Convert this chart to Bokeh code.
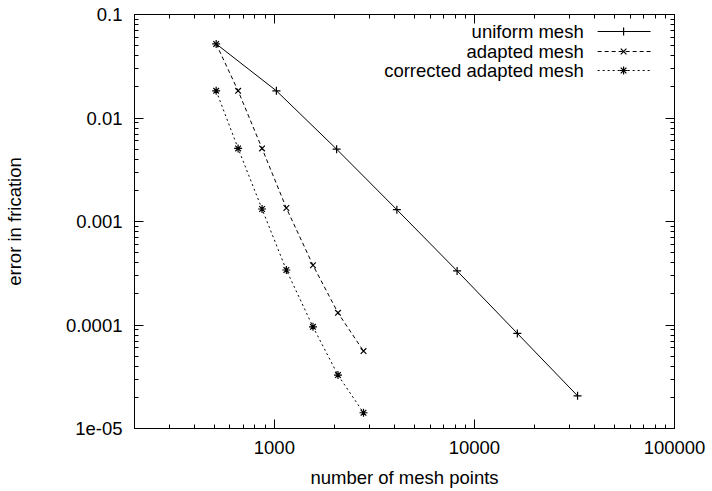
import math
from bokeh.plotting import figure
from bokeh.models import Range1d, LogAxis, FixedTicker, CustomJSTickFormatter
from bokeh.core.properties import value
from bokeh.embed import file_html
from bokeh.resources import INLINE

# ---- data ----
uniform_n = [512, 1024, 2048, 4096, 8192, 16384, 32768]
uniform_err = [0.052, 0.0183, 0.0050, 0.0013, 0.000333, 0.000083, 0.0000207]
adapted_n = [512, 659, 868, 1148, 1560, 2080, 2790]
adapted_err = [0.052, 0.0183, 0.00508, 0.00135, 0.000378, 0.000131, 0.000056]
corrected_n = [512, 659, 868, 1148, 1560, 2080, 2790]
corrected_err = [0.0183, 0.00508, 0.00132, 0.00034, 0.000096, 0.0000328, 0.0000142]
series_names = ["uniform mesh", "adapted mesh", "corrected adapted mesh"]
x_ticks = [1000, 10000, 100000]
x_tick_labels = ["1000", "10000", "100000"]
y_ticks = [1e-5, 1e-4, 1e-3, 1e-2, 1e-1]
y_tick_labels = ["1e-05", "0.0001", "0.001", "0.01", "0.1"]
x_label = "number of mesh points"
y_label = "error in frication"

XMIN, XMAX = 200, 100000
YMIN, YMAX = 1e-5, 0.1

FONT = "Liberation Sans"
FS = "18.5px"

L, R, T, B = 133, 38, 14, 63
W, H = 712, 491
FW, FH = W - L - R, H - T - B

p = figure(width=W, height=H, x_axis_type="log", y_axis_type="log",
           x_range=Range1d(XMIN, XMAX), y_range=Range1d(YMIN, YMAX),
           output_backend="svg", toolbar_location=None,
           min_border_left=L, min_border_right=R, min_border_top=T, min_border_bottom=B)
p.xgrid.visible = False
p.ygrid.visible = False
p.outline_line_color = "black"
p.background_fill_color = "white"
p.border_fill_color = "white"

def minor(lo, hi):
    out = []
    for d in range(lo, hi):
        for m in range(2, 10):
            out.append(m * 10 ** d)
    return out

x_ticker = FixedTicker(ticks=x_ticks, minor_ticks=minor(2, 5))
y_ticker = FixedTicker(ticks=y_ticks, minor_ticks=minor(-5, -1))

fmt_code = """
for (let i = 0; i < vals.length; i++) {
  if (Math.abs(Math.log10(tick) - Math.log10(vals[i])) < 1e-6) return labs[i];
}
return "";
"""
x_fmt = CustomJSTickFormatter(args=dict(vals=x_ticks, labs=x_tick_labels), code=fmt_code)
y_fmt = CustomJSTickFormatter(args=dict(vals=y_ticks, labs=y_tick_labels), code=fmt_code)
blank_fmt = CustomJSTickFormatter(code='return "";')

def style_axis(ax, show_labels):
    ax.major_tick_in = 9
    ax.major_tick_out = 0
    ax.minor_tick_in = 4
    ax.minor_tick_out = 0
    ax.axis_line_color = "black"
    ax.major_tick_line_color = "black"
    ax.minor_tick_line_color = "black"
    ax.major_label_text_font = FONT
    ax.major_label_text_font_size = FS if show_labels else "1px"
    ax.major_label_text_color = "black"
    ax.axis_label_text_font = FONT
    ax.axis_label_text_font_size = FS
    ax.axis_label_text_font_style = "normal"
    ax.axis_label_text_color = "black"
    if not show_labels:
        ax.major_label_standoff = 0

xa = p.xaxis[0]
xa.ticker = x_ticker
xa.formatter = x_fmt
style_axis(xa, True)
xa.axis_label = x_label
xa.major_label_standoff = 12
xa.axis_label_standoff = 10

ya = p.yaxis[0]
ya.ticker = y_ticker
ya.formatter = y_fmt
style_axis(ya, True)
ya.axis_label = y_label
ya.major_label_standoff = 12
ya.axis_label_standoff = 38

top = LogAxis(ticker=x_ticker, formatter=blank_fmt)
style_axis(top, False)
p.add_layout(top, "above")
right = LogAxis(ticker=y_ticker, formatter=blank_fmt)
style_axis(right, False)
p.add_layout(right, "right")

styles = [
    dict(dash="solid", marker="cross", size=8),
    dict(dash="4 3", marker="x", size=8),
    dict(dash="2 3", marker="asterisk", size=8),
]
series = [(uniform_n, uniform_err), (adapted_n, adapted_err), (corrected_n, corrected_err)]

for (xs, ys), st in zip(series, styles):
    p.line(xs, ys, line_color="black", line_width=1, line_dash=st["dash"])
    p.scatter(xs, ys, marker=st["marker"], size=st["size"], line_color="black",
              fill_color=None, line_width=1.2)

# legend (drawn manually: text right-aligned, sample on the right)
def xpx(px):
    return 10 ** (math.log10(XMIN) + (px - L) / FW * math.log10(XMAX / XMIN))

def ypx(py):
    return 10 ** (math.log10(YMAX) - (py - T) / FH * math.log10(YMAX / YMIN))

row_y = [31, 51, 70]
for name, st, ry in zip(series_names, styles, row_y):
    yy = ypx(ry)
    p.text([xpx(583)], [yy], text=[name], text_align="right", text_baseline="middle",
           text_font=value(FONT), text_font_size=FS, text_color="black")
    p.line([xpx(597), xpx(650)], [yy, yy], line_color="black", line_width=1, line_dash=st["dash"])
    p.scatter([xpx(623)], [yy], marker=st["marker"], size=st["size"], line_color="black",
              fill_color=None, line_width=1.2)

open("out.html", "w").write(file_html(p, INLINE))
